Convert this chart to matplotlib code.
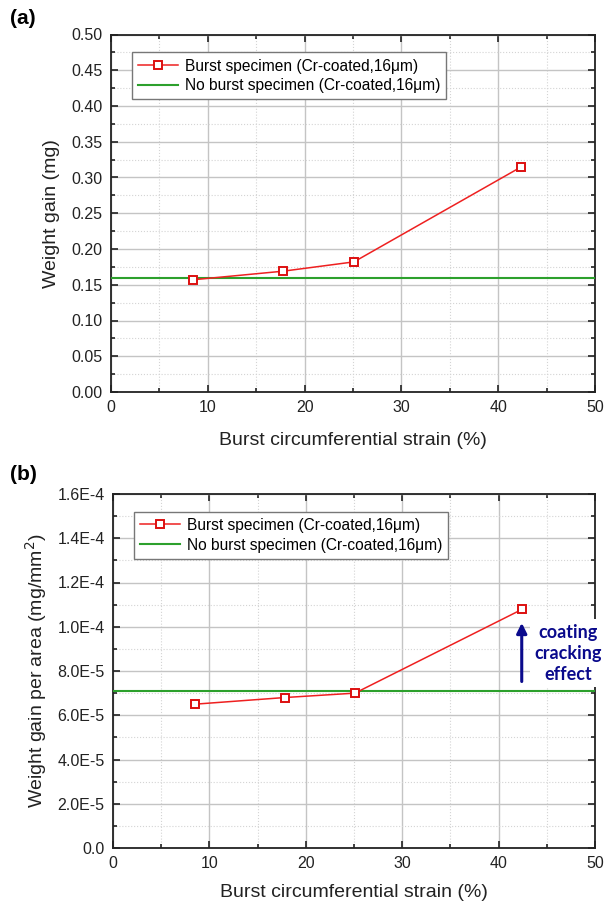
import numpy as np
import matplotlib.pyplot as plt
from matplotlib.ticker import MultipleLocator, FuncFormatter

plt.rcParams['font.family'] = ['Liberation Sans', 'DejaVu Sans']

# data
strain = [8.5, 17.8, 25.1, 42.4]
gain_mg = [0.157, 0.169, 0.182, 0.315]
gain_area = [6.5e-5, 6.8e-5, 7.0e-5, 1.078e-4]
noburst_mg = 0.159
noburst_area = 7.1e-5

lbl_burst = 'Burst specimen (Cr-coated,16\u03bcm)'
lbl_noburst = 'No burst specimen (Cr-coated,16\u03bcm)'

fig = plt.figure(figsize=(6.13, 9.02), dpi=100)
W, H = 613, 902
ax1 = fig.add_axes([111 / W, 1 - 392 / H, (595 - 111) / W, (392 - 34.5) / H])
ax2 = fig.add_axes([113 / W, 1 - 848 / H, (595 - 113) / W, (848 - 494) / H])


def style(ax, ymaj, ymin, ymax, xpad):
    ax.set_xlim(0, 50)
    ax.set_ylim(0, ymax)
    ax.xaxis.set_major_locator(MultipleLocator(10))
    ax.xaxis.set_minor_locator(MultipleLocator(5))
    ax.yaxis.set_major_locator(MultipleLocator(ymaj))
    ax.yaxis.set_minor_locator(MultipleLocator(ymin))
    ax.grid(which='major', color='#c4c4c4', lw=1.0)
    ax.grid(which='minor', color='#d4d4d4', lw=0.8, ls=':')
    ax.set_axisbelow(True)
    ax.tick_params(which='both', direction='in', top=True, right=True,
                   labelsize=11.5, colors='#222222', width=1.2)
    ax.tick_params(which='major', length=5, pad=6)
    ax.tick_params(which='minor', length=3)
    for s in ax.spines.values():
        s.set_linewidth(1.3)
        s.set_color('#222222')
    ax.set_xlabel('Burst circumferential strain (%)', fontsize=14, labelpad=xpad,
                  color='#222222')


def draw(ax, y, ref):
    ax.plot(strain, y, color='#ee2020', lw=1.1, marker='s', ms=6,
            mfc='white', mec='#dd1010', mew=1.4, label=lbl_burst, zorder=4)
    ax.axhline(ref, color='#2ca02c', lw=1.5, label=lbl_noburst, zorder=3)
    leg = ax.legend(loc='upper left', bbox_to_anchor=(0.043, 0.95), fontsize=11.2,
                    fancybox=False, edgecolor='#777777', framealpha=1,
                    handlelength=2.6, handletextpad=0.4, borderpad=0.4,
                    labelspacing=0.3, borderaxespad=0)
    leg.get_frame().set_linewidth(1.0)


# (a)
draw(ax1, gain_mg, noburst_mg)
style(ax1, 0.05, 0.025, 0.5, 12)
ax1.yaxis.set_major_formatter(FuncFormatter(lambda v, p: f'{v:.2f}'))
ax1.set_ylabel('Weight gain (mg)', fontsize=14, labelpad=8, color='#222222')
fig.text(10 / W, 1 - 18 / H, '(a)', fontsize=15, fontweight='bold', va='center')

# (b)
draw(ax2, gain_area, noburst_area)
style(ax2, 2e-5, 1e-5, 1.6e-4, 9)


def sci(v, p):
    if v == 0:
        return '0.0'
    m, e = f'{v:.1E}'.split('E')
    return f'{m}E{int(e)}'


ax2.yaxis.set_major_formatter(FuncFormatter(sci))
ax2.set_ylabel('Weight gain per area (mg/mm$^2$)', fontsize=14, labelpad=6,
               color='#222222')
fig.text(10 / W, 1 - 475 / H, '(b)', fontsize=15, fontweight='bold', va='center')

ax2.annotate('', xy=(42.4, 1.03e-4), xytext=(42.4, 7.4e-5),
             arrowprops=dict(arrowstyle='-|>', color='#0a0a8c', lw=2.2,
                             mutation_scale=15), zorder=6)
ax2.text(47.2, 8.8e-5, 'coating\ncracking\neffect', family=['Lato', 'DejaVu Sans'],
         fontweight='bold', fontsize=13, color='#0a0a8c', ha='center', va='center',
         linespacing=1.3, zorder=6, clip_on=False,
         bbox=dict(facecolor='white', edgecolor='none', pad=3))

fig.savefig('out.png', dpi=100)
